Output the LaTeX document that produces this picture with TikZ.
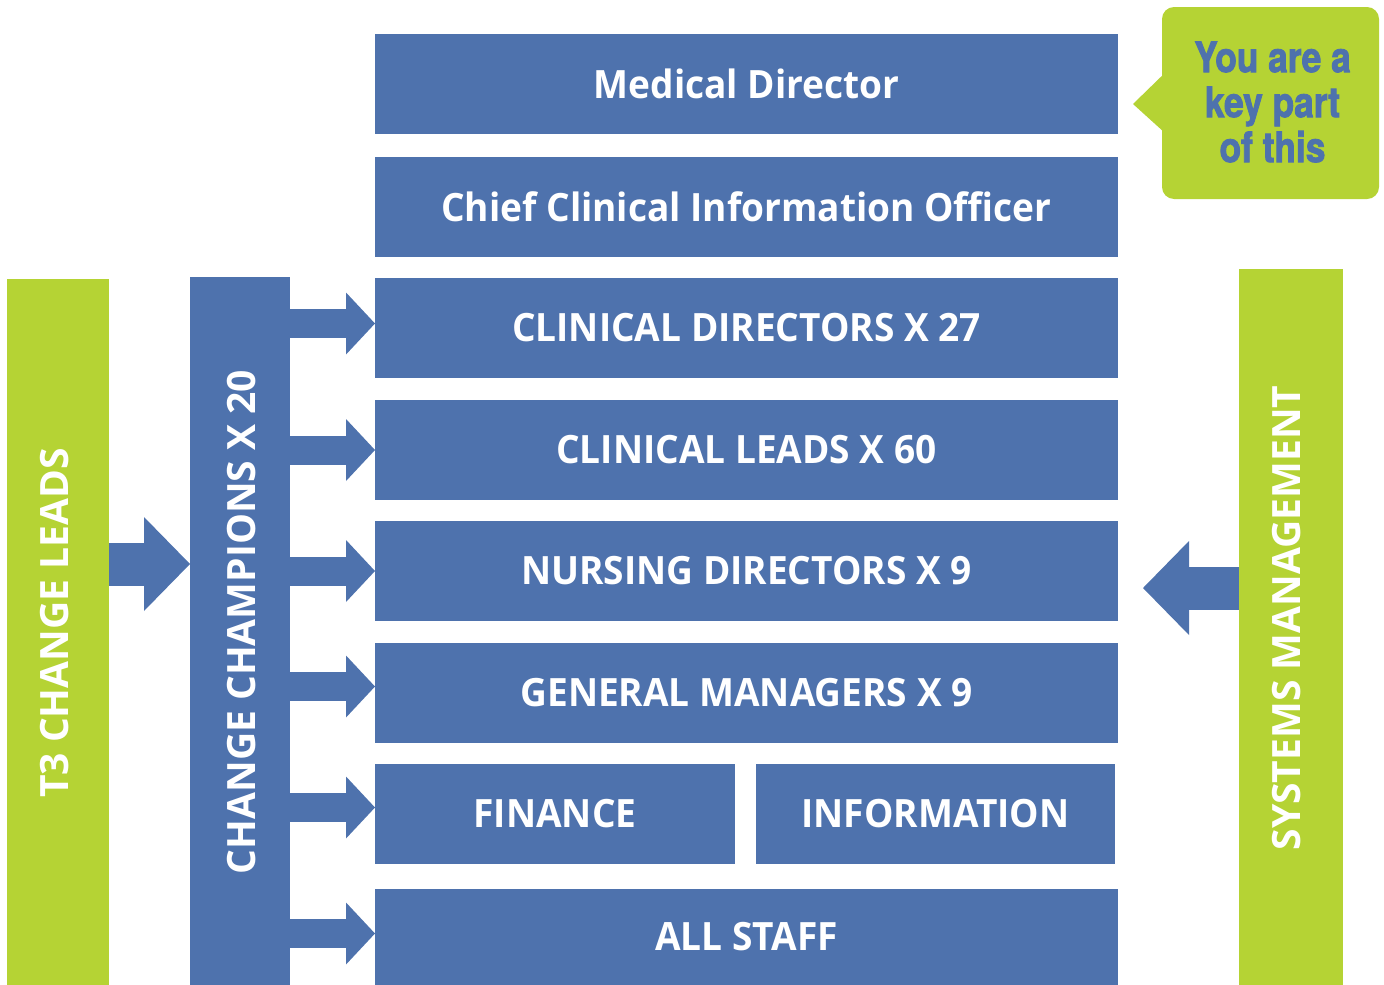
\documentclass[tikz,border=0pt]{standalone}
\usepackage{fontspec}
\setmainfont{Open Sans}
\newfontfamily\tierfont{Open Sans}[FakeStretch=0.95]
\newfontfamily\calloutfont{TeX Gyre Heros}[FakeStretch=0.84,FakeBold=2]
\usetikzlibrary{arrows.meta}
\definecolor{nhsblue}{RGB}{78,114,173}
\definecolor{leafgreen}{RGB}{181,211,52}
\begin{document}
\begin{tikzpicture}[x=1pt,y=-1pt,
  tier/.style={fill=nhsblue, text=white, inner sep=0pt, outer sep=0pt,
    minimum width=743pt, minimum height=100pt,
    font=\tierfont\fontsize{39}{47}\selectfont\bfseries},
  halftier/.style={tier, minimum width=360pt},
  bar/.style={inner sep=0pt, outer sep=0pt, minimum width=102pt},
  bartext/.style={rotate=90, text=white, inner sep=0pt,
    font=\fontsize{39}{47}\selectfont\bfseries},
  feedarrow/.style={draw=nhsblue, line width=29pt,
    -{Triangle[length=29pt, width=62pt, line width=0pt]}},
  leadarrow/.style={draw=nhsblue, line width=43pt,
    -{Triangle[length=46pt, width=94pt, line width=0pt]}}
]
\useasboundingbox (0,0) rectangle (1384,985);

% main hierarchy
\node[tier] (md)   at (746.5,84)  {Medical Director};
\node[tier] (ccio) at (746.5,207) {Chief Clinical Information Officer};
\node[tier] (cd)   at (746.5,328) {CLINICAL DIRECTORS X 27};
\node[tier] (cl)   at (746.5,450) {CLINICAL LEADS X 60};
\node[tier] (nd)   at (746.5,571) {NURSING DIRECTORS X 9};
\node[tier] (gm)   at (746.5,693) {GENERAL MANAGERS X 9};
\node[halftier] (fin)  at (555,814)   {FINANCE};
\node[halftier, minimum width=359pt] (info) at (935.5,814) {INFORMATION};
\node[tier, minimum height=96pt] (all) at (746.5,937) {ALL STAFF};

% side bars
\node[bar, fill=leafgreen, minimum height=706pt] (t3) at (58,632) {};
\node[bar, fill=nhsblue, minimum width=100pt, minimum height=708pt] (champ) at (240,631) {};
\node[bar, fill=leafgreen, minimum width=104pt, minimum height=716pt] (sys) at (1291,627) {};
\node[bartext] at (55,623)  {T3 CHANGE LEADS};
\node[bartext] at (242,622) {CHANGE CHAMPIONS X 20};
\node[bartext] at (1287,618) {SYSTEMS MANAGEMENT};

% arrows from the change champions
\path ([yshift=4.5pt]cd.west) coordinate (cdin)
      (cl.west) coordinate (clin)
      (nd.west) coordinate (ndin)
      ([yshift=6.5pt]gm.west) coordinate (gmin)
      ([yshift=6.5pt]fin.west) coordinate (finin)
      ([yshift=3.5pt]all.west) coordinate (allin);
\foreach \t in {cdin,clin,ndin,gmin,finin,allin}
  \draw[feedarrow] (champ.east |- \t) -- (\t);

% arrows into the champions and from systems management
\path ([yshift=67pt]champ.west) coordinate (t3in);
\draw[leadarrow] (t3.east |- t3in) -- (t3in);
\coordinate (sysout) at (1143,588);
\draw[leadarrow] (sys.west |- sysout) -- (sysout);

% callout
\node[fill=leafgreen, rounded corners=12pt, inner sep=0pt,
      minimum width=217pt, minimum height=192pt] (call) at (1270.5,103) {};
\fill[leafgreen] ([xshift=1pt,yshift=28pt]call.west) -- (1133,104)
  -- ([xshift=1pt,yshift=-28pt]call.west) -- cycle;
\node[text=nhsblue, align=center, inner sep=0pt,
      font=\calloutfont\bfseries\fontsize{42}{45}\selectfont] (calltext)
      at ([xshift=2pt,yshift=1pt]call.center) {You are a\\key part\\of this};
\end{tikzpicture}
\end{document}
